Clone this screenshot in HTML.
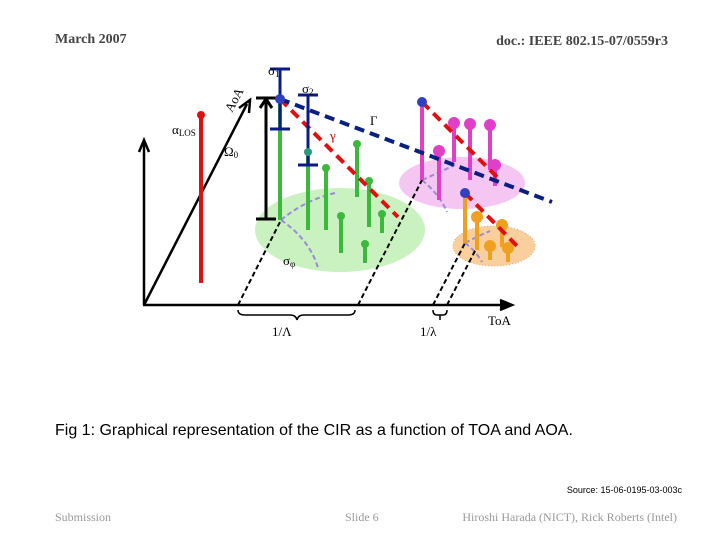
<!DOCTYPE html>
<html><head><meta charset="utf-8"><style>
body{margin:0;background:#fff;width:720px;height:540px;overflow:hidden}
svg{display:block}
.s{font-family:"Liberation Serif",serif}
</style></head><body>
<svg width="720" height="540" viewBox="0 0 720 540">
<text class="s" x="55" y="43" font-size="14" font-weight="bold" fill="#444">March 2007</text>
<text class="s" x="668" y="45" font-size="14" font-weight="bold" fill="#444" text-anchor="end">doc.: IEEE 802.15-07/0559r3</text>

<g>
<ellipse cx="340" cy="230" rx="85" ry="42" fill="#c9f2c0"/>
<ellipse cx="462" cy="183" rx="63" ry="26" fill="#f6c6f2"/>
<ellipse cx="494" cy="246" rx="41" ry="20" fill="#f9cf9e" stroke="#e0a060" stroke-dasharray="1,2"/>

<g stroke="#9a8ad8" stroke-width="2" stroke-dasharray="5,3" fill="none">
<path d="M281 220 Q305 200 335 193"/><path d="M281 220 Q310 240 318 268"/>
<path d="M422 180 Q440 172 455 165"/><path d="M422 180 Q440 195 447 212"/>
<path d="M465 243 Q478 236 490 231"/><path d="M465 243 Q475 250 482 262"/>
</g>

<g stroke="#000" stroke-width="2" stroke-dasharray="5,3">
<line x1="238" y1="305" x2="281" y2="220"/><line x1="358" y1="305" x2="422" y2="180"/>
<line x1="433" y1="305" x2="465" y2="243"/><line x1="447" y1="305" x2="477" y2="247"/>
</g>

<g stroke="#000" stroke-width="2.5" fill="none">
<line x1="143" y1="305" x2="508" y2="305"/><path d="M500 300 L512 305 L500 310" fill="#000"/>
<line x1="144" y1="305" x2="144" y2="142"/><path d="M139 152 L144 140 L149 152"/>
<line x1="144" y1="305" x2="247" y2="104"/><path d="M239 108 L250 100 L249 113"/>
</g>

<line x1="201" y1="115" x2="201" y2="283" stroke="#e01010" stroke-width="4"/>
<circle cx="201" cy="115" r="4" fill="#e01010"/>

<g stroke="#000" stroke-width="3">
<line x1="266" y1="100" x2="266" y2="219"/><line x1="256" y1="219" x2="276" y2="219"/>
<line x1="256" y1="98" x2="276" y2="98"/><path d="M260 108 L266 99 L272 108" fill="none"/>
</g>

<g stroke-width="4">
<line x1="280" y1="99" x2="280" y2="220" stroke="#3cb83c"/>
<line x1="308" y1="152" x2="308" y2="230" stroke="#3cb83c"/>
<line x1="326" y1="168" x2="326" y2="230" stroke="#3cb83c"/><circle cx="326" cy="168" r="4" fill="#3cb83c"/>
<line x1="341" y1="216" x2="341" y2="253" stroke="#3cb83c"/><circle cx="341" cy="216" r="4" fill="#3cb83c"/>
<line x1="357" y1="144" x2="357" y2="197" stroke="#3cb83c"/><circle cx="357" cy="144" r="4" fill="#3cb83c"/>
<line x1="369" y1="181" x2="369" y2="227" stroke="#3cb83c"/><circle cx="369" cy="181" r="4" fill="#3cb83c"/>
<line x1="382" y1="214" x2="382" y2="233" stroke="#3cb83c"/><circle cx="382" cy="214" r="4" fill="#3cb83c"/>
<line x1="365" y1="244" x2="365" y2="263" stroke="#3cb83c"/><circle cx="365" cy="244" r="4" fill="#3cb83c"/>
</g>

<g stroke="#e040c8" stroke-width="4">
<line x1="422" y1="102" x2="422" y2="180"/>
<line x1="439" y1="151" x2="439" y2="200"/><circle cx="439" cy="151" r="4" fill="#e040c8"/>
<line x1="454" y1="123" x2="454" y2="162"/><circle cx="454" cy="123" r="4" fill="#e040c8"/>
<line x1="470" y1="124" x2="470" y2="180"/><circle cx="470" cy="124" r="4" fill="#e040c8"/>
<line x1="490" y1="125" x2="490" y2="170"/><circle cx="490" cy="125" r="4" fill="#e040c8"/>
<line x1="495" y1="165" x2="495" y2="186"/><circle cx="495" cy="165" r="4" fill="#e040c8"/>
</g>

<g stroke="#f0a020" stroke-width="4">
<line x1="465" y1="193" x2="465" y2="243"/>
<line x1="477" y1="217" x2="477" y2="250"/><circle cx="477" cy="217" r="4" fill="#f0a020"/>
<line x1="502" y1="225" x2="502" y2="247"/><circle cx="502" cy="225" r="4" fill="#f0a020"/>
<line x1="490" y1="246" x2="490" y2="260"/><circle cx="490" cy="246" r="4" fill="#f0a020"/>
<line x1="508" y1="248" x2="508" y2="262"/><circle cx="508" cy="248" r="4" fill="#f0a020"/>
</g>

<g stroke="#e01010" stroke-width="4" stroke-dasharray="10,6">
<line x1="280" y1="99" x2="398" y2="217"/><line x1="422" y1="102" x2="497" y2="177"/><line x1="465" y1="193" x2="517" y2="246"/>
</g>
<line x1="280" y1="99" x2="552" y2="202" stroke="#0a2080" stroke-width="4" stroke-dasharray="10,6"/>

<g stroke="#0a1a8a" stroke-width="3">
<line x1="280" y1="69" x2="280" y2="129"/><line x1="270" y1="69" x2="290" y2="69"/><line x1="270" y1="129" x2="290" y2="129"/>
<line x1="308" y1="95" x2="308" y2="165"/><line x1="298" y1="95" x2="318" y2="95"/><line x1="298" y1="165" x2="318" y2="165"/>
</g>
<circle cx="280" cy="99" r="5" fill="#3040c0"/><circle cx="422" cy="102" r="5" fill="#3040c0"/><circle cx="465" cy="193" r="5" fill="#3040c0"/>
<circle cx="308" cy="152" r="4" fill="#2a9a7a"/>

<g stroke="#000" stroke-width="1.5" fill="none">
<path d="M238 310 Q238 315 245 315 L290 315 Q296 315 297 320 Q298 315 304 315 L348 315 Q355 315 355 310"/>
<path d="M433 310 Q433 315 437 315 L440 315 L440 320 M440 315 L443 315 Q447 315 447 310"/>
</g>

<g class="s" font-size="13" fill="#000">
<text x="268" y="75">σ<tspan font-size="9" dy="2">1</tspan></text>
<text x="302" y="93">σ<tspan font-size="9" dy="2">2</tspan></text>
<text x="172" y="134">α<tspan font-size="9" dy="2">LOS</tspan></text>
<text x="0" y="0" transform="translate(232,113) rotate(-62)">AoA</text>
<text x="224" y="156">Ω<tspan font-size="9" dy="2">0</tspan></text>
<text x="370" y="125">Γ</text>
<text x="330" y="140" fill="#c00000">γ</text>
<text x="283" y="265">σ<tspan font-size="9" dy="2">φ</tspan></text>
<text x="272" y="336">1/Λ</text>
<text x="420" y="336">1/λ</text>
<text x="488" y="325">ToA</text>
</g>
</g>

<text x="55" y="435" font-family="Liberation Sans,sans-serif" font-size="16">Fig 1: Graphical representation of the CIR as a function of TOA and AOA.</text>
<text x="682" y="493" font-family="Liberation Sans,sans-serif" font-size="9" text-anchor="end">Source: 15-06-0195-03-003c</text>

<text class="s" x="55" y="521" font-size="12" fill="#999">Submission</text>
<text class="s" x="345" y="521" font-size="12" fill="#999">Slide 6</text>
<text class="s" x="677" y="521" font-size="12" fill="#999" text-anchor="end">Hiroshi Harada (NICT), Rick Roberts (Intel)</text>
</svg>
</body></html>
